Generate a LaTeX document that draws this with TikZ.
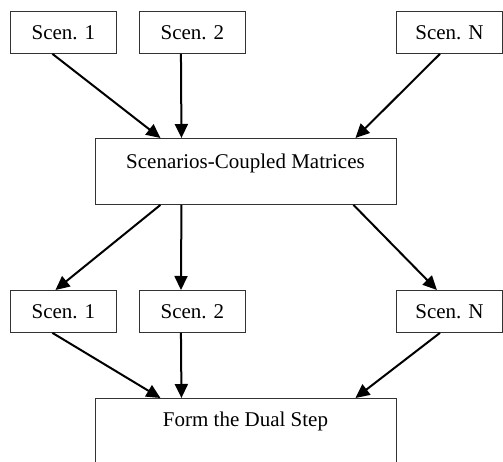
\documentclass[tikz,border=0pt]{standalone}
\usepackage{fontspec}
\setmainfont{Liberation Serif}
\usetikzlibrary{arrows.meta}
\begin{document}
\begin{tikzpicture}[x=1pt,y=-1pt,
 box/.style={draw=black!80, line width=0.9pt, inner sep=0pt, anchor=north west, font=\fontsize{21}{25}\selectfont},
 small/.style={box, minimum width=106pt, minimum height=42pt},
 big/.style={box, minimum width=301pt},
 lbl/.style={font=\fontsize{21}{25}\selectfont, inner sep=0pt},
 arr/.style={line width=2pt, -{Triangle[length=14pt,width=13pt]}}]
\clip (0,0) rectangle (503,461);
\fill[white] (0,0) rectangle (503,461);
% top row
\node[small] (a1) at (10,11) {Scen. 1};
\node[small] (a2) at (139,11) {Scen. 2};
\node[small] (aN) at (396,11) {Scen. N};
% middle
\node[big, minimum height=66pt] (m) at (95,138) {};
\node[lbl] (mt) at (245.5,163) {Scenarios-Coupled Matrices};
% second row
\node[small] (b1) at (10,290) {Scen. 1};
\node[small] (b2) at (139,290) {Scen. 2};
\node[small] (bN) at (396,290) {Scen. N};
% bottom
\node[big, minimum height=80pt] (f) at (95,398) {};
\node[lbl] (ft) at (245.5,421) {Form the Dual Step};
% arrows
\draw[arr] ([xshift=-11pt]a1.south) -- ([xshift=-85.5pt]m.north);
\draw[arr] ([xshift=-11.5pt]a2.south) -- ([xshift=-64.5pt]m.north);
\draw[arr] ([xshift=-9.5pt]aN.south) -- ([xshift=109.5pt]m.north);
\draw[arr] ([xshift=-85.5pt]m.south) -- ([xshift=-8pt]b1.north);
\draw[arr] ([xshift=-64.5pt]m.south) -- ([xshift=-11.5pt]b2.north);
\draw[arr] ([xshift=107.5pt]m.south) -- ([xshift=-12.5pt]bN.north);
\draw[arr] ([xshift=-11pt]b1.south) -- ([xshift=-85.5pt]f.north);
\draw[arr] ([xshift=-11.5pt]b2.south) -- ([xshift=-64.5pt]f.north);
\draw[arr] ([xshift=-9.5pt]bN.south) -- ([xshift=109.5pt]f.north);
\end{tikzpicture}
\end{document}
